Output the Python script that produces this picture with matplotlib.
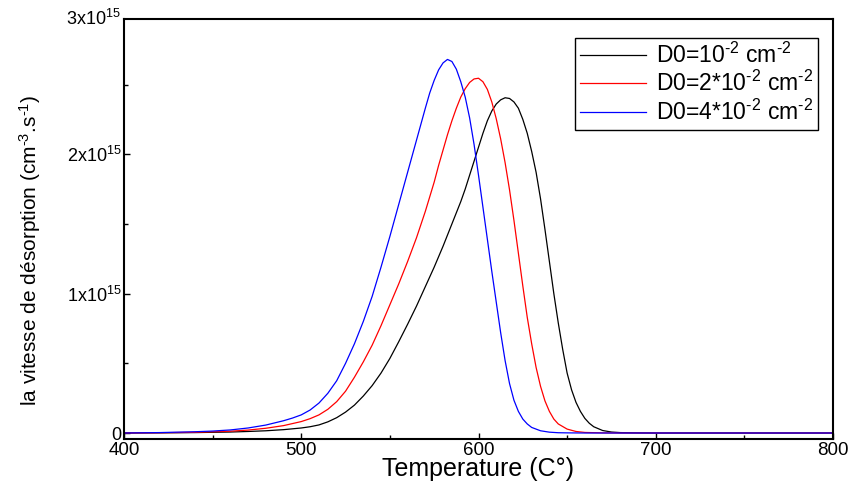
import matplotlib
matplotlib.use('Agg')
from matplotlib import pyplot as plt
from matplotlib.ticker import MultipleLocator, FixedLocator

plt.rcParams['font.family'] = ['Liberation Sans', 'DejaVu Sans']
plt.rcParams['mathtext.fontset'] = 'custom'
plt.rcParams['mathtext.rm'] = 'Liberation Sans'
plt.rcParams['mathtext.it'] = 'Liberation Sans:italic'
plt.rcParams['mathtext.bf'] = 'Liberation Sans:bold'

# temperature (C) and desorption rate (x1e15 cm-3 s-1)
t_black = [400, 420, 440, 460, 470, 480, 490, 500, 505, 510, 515, 520, 525, 530, 535,
           540, 545, 550, 555, 560, 565, 570, 575, 580, 585, 590, 592.5, 595, 597.5, 600,
           602.5, 605, 607.5, 610, 612.5, 615, 617.5, 620, 622.5, 625, 627.5, 630, 632.5, 635,
           637.5, 640, 642.5, 645, 647.5, 650, 652.5, 655, 657.5, 660, 662.5, 665, 670, 675,
           680, 690, 700, 800]
v_black = [0, 0.001, 0.003, 0.007, 0.011, 0.016, 0.024, 0.036, 0.045, 0.058, 0.08, 0.11, 0.15, 0.20, 0.265,
           0.34, 0.43, 0.535, 0.655, 0.78, 0.91, 1.05, 1.19, 1.34, 1.50, 1.66, 1.75, 1.85, 1.95, 2.05,
           2.15, 2.24, 2.31, 2.36, 2.39, 2.405, 2.40, 2.375, 2.33, 2.25, 2.15, 2.02, 1.87, 1.68,
           1.46, 1.23, 1.00, 0.79, 0.60, 0.43, 0.31, 0.22, 0.155, 0.105, 0.07, 0.045, 0.018, 0.007,
           0.003, 0.001, 0, 0]

t_red = [400, 420, 440, 460, 470, 480, 490, 500, 505, 510, 515, 520, 525, 530, 535,
         540, 545, 550, 555, 560, 565, 570, 575, 577.5, 580, 582.5, 585, 587.5, 590, 592.5,
         595, 597.5, 600, 602.5, 605, 607.5, 610, 612.5, 615, 617.5, 620, 622.5, 625, 627.5,
         630, 632.5, 635, 637.5, 640, 642.5, 645, 650, 655, 660, 670, 680, 800]
v_red = [0, 0.002, 0.005, 0.013, 0.021, 0.034, 0.053, 0.082, 0.103, 0.13, 0.17, 0.225, 0.30, 0.40, 0.51,
         0.63, 0.77, 0.92, 1.07, 1.23, 1.40, 1.59, 1.80, 1.92, 2.03, 2.14, 2.24, 2.33, 2.41, 2.47,
         2.515, 2.54, 2.545, 2.52, 2.465, 2.375, 2.255, 2.11, 1.94, 1.745, 1.525, 1.29, 1.055, 0.83,
         0.64, 0.47, 0.335, 0.23, 0.155, 0.10, 0.065, 0.028, 0.011, 0.004, 0.001, 0, 0]

t_blue = [400, 420, 440, 450, 460, 470, 480, 490, 495, 500, 505, 510, 515, 520, 525,
          530, 535, 540, 545, 550, 555, 560, 565, 570, 572.5, 575, 577.5, 580, 582.5, 585,
          587.5, 590, 592.5, 595, 597.5, 600, 602.5, 605, 607.5, 610, 612.5, 615, 617.5, 620,
          622.5, 625, 627.5, 630, 635, 640, 645, 650, 660, 800]
v_blue = [0, 0.003, 0.009, 0.014, 0.022, 0.036, 0.057, 0.088, 0.107, 0.13, 0.165, 0.215, 0.285, 0.375, 0.50,
          0.64, 0.80, 0.98, 1.19, 1.41, 1.64, 1.87, 2.10, 2.33, 2.44, 2.53, 2.605, 2.655, 2.68, 2.665,
          2.61, 2.52, 2.41, 2.26, 2.07, 1.85, 1.62, 1.39, 1.16, 0.94, 0.72, 0.52, 0.355, 0.235,
          0.155, 0.10, 0.065, 0.04, 0.016, 0.006, 0.002, 0.001, 0, 0]

hy = '\u2010'  # short hyphen as in the original superscripts
labels = [r'D0=10$^{%s2}$ cm$^{%s2}$' % (hy, hy),
          r'D0=2*10$^{%s2}$ cm$^{%s2}$' % (hy, hy),
          r'D0=4*10$^{%s2}$ cm$^{%s2}$' % (hy, hy)]
colors = ['k', 'r', 'b']
scale = 1e15

fig = plt.figure(figsize=(8.51, 4.90), dpi=100)
ax = fig.add_axes([124 / 851, 1 - 439 / 490, 709 / 851, 420 / 490])

for t, v, c, lab in zip([t_black, t_red, t_blue], [v_black, v_red, v_blue], colors, labels):
    ax.plot(t, [x * scale for x in v], color=c, lw=0.9, label=lab)

ax.set_xlim(400, 800)
ax.set_ylim(-0.043e15, 2.97e15)
ax.xaxis.set_major_locator(MultipleLocator(100))
ax.xaxis.set_minor_locator(MultipleLocator(50))
ax.yaxis.set_major_locator(FixedLocator([0, 1e15, 2e15]))
ax.yaxis.set_minor_locator(MultipleLocator(0.5e15))
ax.set_yticklabels(['0', r'1x10$^{15}$', r'2x10$^{15}$'])
ax.text(-0.005, 1.0, r'3x10$^{15}$', transform=ax.transAxes, ha='right', va='center', fontsize=13)

ax.tick_params(which='both', direction='in', width=1)
ax.tick_params(axis='y', labelsize=13)
ax.tick_params(axis='x', labelsize=13.5)
ax.tick_params(which='major', length=4, pad=2)
ax.tick_params(which='minor', length=3)
for s in ax.spines.values():
    s.set_linewidth(1.5)

ax.set_xlabel('Temperature (C°)', fontsize=18, labelpad=-1)
ax.set_ylabel(r'la vitesse de désorption (cm$^{%s3}$.s$^{%s1}$)' % (hy, hy), fontsize=15)
ax.yaxis.set_label_coords(-0.114, 0.45)

leg = ax.legend(loc='upper right', bbox_to_anchor=(0.979, 0.955), fontsize=16.5, fancybox=False,
                edgecolor='k', framealpha=1, handlelength=2.9, handletextpad=0.45,
                borderpad=0.2, labelspacing=0.15, borderaxespad=0)
leg.get_frame().set_linewidth(1)

fig.savefig('out.png', dpi=100)
